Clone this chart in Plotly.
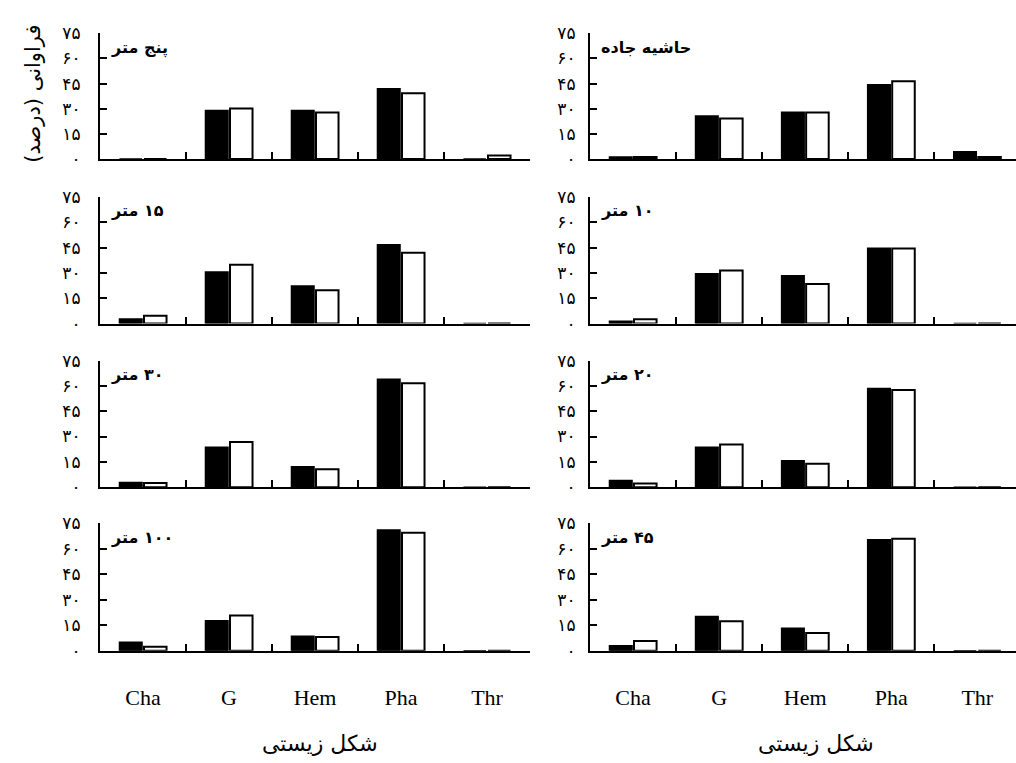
import plotly.graph_objects as go

categories = ["Cha", "G", "Hem", "Pha", "Thr"]
ytick_vals = [0, 15, 30, 45, 60, 75]
ytick_text = ["۰", "۱۵", "۳۰", "۴۵", "۶۰", "۷۵"]

# left column (top to bottom)
black_5m = [0, 29.0, 29.0, 42.0, 0]
white_5m = [0, 30.2, 27.7, 39.3, 2.1]
black_15m = [2.7, 30.5, 22.2, 46.7, 0]
white_15m = [4.6, 34.9, 19.7, 41.9, 0]
black_30m = [2.7, 23.7, 12.1, 64.0, 0]
white_30m = [2.5, 26.7, 10.6, 61.5, 0]
black_100m = [5.0, 17.7, 8.5, 71.0, 0]
white_100m = [2.3, 20.8, 8.1, 69.4, 0]
# right column (top to bottom)
black_edge = [1.2, 25.7, 27.9, 44.3, 4.3]
white_edge = [1.2, 24.2, 27.7, 46.4, 1.2]
black_10m = [1.4, 29.5, 28.3, 44.6, 0]
white_10m = [2.5, 31.4, 23.4, 44.4, 0]
black_20m = [4.0, 23.7, 15.6, 58.4, 0]
white_20m = [2.1, 25.2, 13.9, 57.6, 0]
black_45m = [2.9, 20.2, 13.3, 65.2, 0]
white_45m = [5.8, 17.3, 10.4, 65.8, 0]

panel_labels_left = ["پنج متر", "۱۵ متر", "۳۰ متر", "۱۰۰ متر"]
panel_labels_right = ["حاشیه جاده", "۱۰ متر", "۲۰ متر", "۴۵ متر"]
left_data = [(black_5m, white_5m), (black_15m, white_15m), (black_30m, white_30m), (black_100m, white_100m)]
right_data = [(black_edge, white_edge), (black_10m, white_10m), (black_20m, white_20m), (black_45m, white_45m)]

x_title = "شکل زیستی"
y_title = "فراوانی (درصد)"

RLE, PDF = "\u202B", "\u202C"


def rtl(s):
    return RLE + s + PDF


W, H = 1016, 763
FA = "DejaVu Sans, Noto Sans Arabic, sans-serif"
LAT = "Liberation Serif, Times New Roman, serif"

# pixel geometry
row_px = [(24, 153), (192, 322), (360, 490), (527, 658)]
col_px = [(100, 530), (590, 1016)]
col_range = [[-0.5, 4.5], [-0.5, 4.45]]
ystandoff = [14, 9]

fig = go.Figure()
layout = dict(
    width=W, height=H, margin=dict(l=0, r=0, t=0, b=0),
    paper_bgcolor="white", plot_bgcolor="white", showlegend=False,
    barmode="group", bargap=0.43, bargroupgap=0.08,
)
annotations = []
idx = 0
for c in range(2):
    labels = panel_labels_left if c == 0 else panel_labels_right
    datas = left_data if c == 0 else right_data
    for r in range(4):
        idx += 1
        xa = "x" if idx == 1 else f"x{idx}"
        ya = "y" if idx == 1 else f"y{idx}"
        b, w = datas[r]
        fig.add_trace(go.Bar(x=categories, y=b, xaxis=xa, yaxis=ya, name="سری ۱",
                             marker=dict(color="black", line=dict(color="black", width=1.5))))
        fig.add_trace(go.Bar(x=categories, y=w, xaxis=xa, yaxis=ya, name="سری ۲",
                             marker=dict(color="white", line=dict(color="black", width=2))))
        x0, x1 = col_px[c]
        t, btm = row_px[r]
        layout["xaxis" if idx == 1 else f"xaxis{idx}"] = dict(
            domain=[x0 / W, x1 / W], anchor=ya, range=col_range[c],
            type="category", tickson="boundaries", ticks="inside", ticklen=7,
            tickwidth=2, tickcolor="black", showline=True, linecolor="black",
            linewidth=2, showgrid=False, zeroline=False,
            showticklabels=(r == 3), ticklabelstandoff=26,
            tickfont=dict(family=LAT, size=22, color="black"),
        )
        layout["yaxis" if idx == 1 else f"yaxis{idx}"] = dict(
            domain=[1 - btm / H, 1 - t / H], anchor=xa, range=[0, 75],
            tickvals=ytick_vals, ticktext=ytick_text, ticks="inside", ticklen=7,
            tickwidth=2, tickcolor="black", showline=True, linecolor="black",
            linewidth=2, showgrid=False, zeroline=False, ticklabelstandoff=ystandoff[c],
            tickfont=dict(family=FA, size=17, color="black"),
        )
        annotations.append(dict(
            text="<b>" + rtl(labels[r]) + "</b>", xref=f"{xa} domain", yref=f"{ya} domain",
            x=0.02, y=0.98, xanchor="left", yanchor="top", showarrow=False,
            font=dict(family=FA, size=16, color="black"),
        ))

for xc in (320, 816):
    annotations.append(dict(text=rtl(x_title), xref="paper", yref="paper", x=xc / W, y=1 - 753 / H,
                            xanchor="center", yanchor="middle", showarrow=False,
                            font=dict(family=FA, size=22, color="black")))
annotations.append(dict(text=rtl(y_title), xref="paper", yref="paper", x=33 / W, y=1 - 86 / H,
                        xanchor="center", yanchor="middle", showarrow=False, textangle=-90,
                        font=dict(family=FA, size=21, color="black")))
layout["annotations"] = annotations
fig.update_layout(**layout)
fig.write_html("out.html")
